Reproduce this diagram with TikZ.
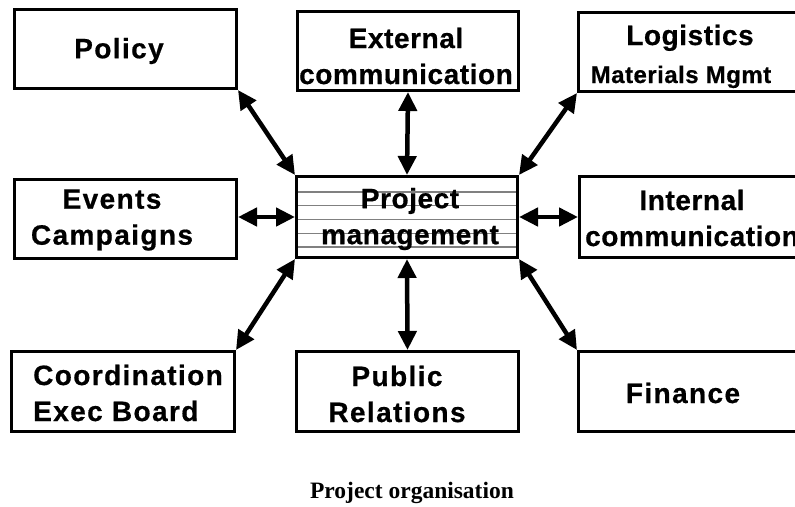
\documentclass[tikz,border=0pt]{standalone}
\usepackage{fontspec}
\setmainfont{Liberation Sans}
\newfontfamily\boxfont{Liberation Sans Bold}[LetterSpace=2, FakeBold=0.6]
\newfontfamily\boxfontwide{Liberation Sans Bold}[LetterSpace=5, FakeBold=0.6]
\newfontfamily\capfont{Liberation Serif}
\usetikzlibrary{arrows.meta}
\begin{document}
\begin{tikzpicture}[x=1pt,y=-1pt,
  box/.style={draw=black, line width=3pt, fill=white, inner sep=0pt},
  lbl/.style={font=\boxfont\fontsize{28}{36}\selectfont, align=center, inner sep=0pt},
  dbl/.style={line width=4.5pt, {Triangle[length=19pt,width=18pt]}-{Triangle[length=19pt,width=18pt]}},
  hline/.style={draw=black!50, line width=1.4pt}]
\clip (0,0) rectangle (795,506);
\fill[white] (0,0) rectangle (795,506);
% boxes
\node[box, minimum width=222pt, minimum height=79pt] (policy) at (125.5,49) {};
\node[box, minimum width=221pt, minimum height=79pt] (ext) at (408,51) {};
\node[box, minimum width=240pt, minimum height=79pt] (logi) at (698.5,52) {};
\node[box, minimum width=222pt, minimum height=79pt] (events) at (125.5,219) {};
\node[box, minimum width=221pt, minimum height=81pt] (pm) at (407,217) {};
\node[box, minimum width=239pt, minimum height=81pt] (internal) at (699,217) {};
\node[box, minimum width=223pt, minimum height=80pt] (coord) at (123,391.5) {};
\node[box, minimum width=222pt, minimum height=80pt] (public) at (407.5,391.5) {};
\node[box, minimum width=240pt, minimum height=80pt] (finance) at (698.5,391.5) {};
% lines in project management box
\foreach \yy in {192,205.75,219.5,233.25,247}
  \draw[hline] (298,\yy) -- (516,\yy);
% texts
\node[lbl, font=\boxfontwide\fontsize{28}{36}\selectfont] (tpolicy) at (119,51) {Policy};
\node[lbl] (text) at (406,56) {External\\communication};
\node[lbl, anchor=base] (tlog1) at (690,45) {Logistics};
\node[lbl, anchor=base, font=\boxfont\fontsize{24}{30}\selectfont] (tlog2) at (681,83) {Materials Mgmt};
\node[lbl, font=\boxfontwide\fontsize{28}{36}\selectfont] (tevents) at (112,220) {Events\\Campaigns};
\node[lbl] (tpm) at (410,219) {Project\\management};
\node[lbl] (tint) at (692,218) {Internal\\communication};
\node[lbl, anchor=west, align=left, font=\boxfontwide\fontsize{28}{36}\selectfont] (tcoord) at (33,393) {Coordination\\Exec Board};
\node[lbl, font=\boxfontwide\fontsize{28}{36}\selectfont] (tpublic) at (397,394) {Public\\Relations};
\node[lbl, font=\boxfontwide\fontsize{28}{36}\selectfont] (tfin) at (683,393) {Finance};
% arrows
\draw[dbl] (policy.south east) -- (pm.north west);
\draw[dbl] (ext.south) -- (pm.north);
\draw[dbl] (logi.south west) -- (pm.north east);
\draw[dbl] (events.east |- pm.west) -- (pm.west);
\draw[dbl] (internal.west |- pm.east) -- (pm.east);
\draw[dbl] (coord.north east) -- (pm.south west);
\draw[dbl] (public.north) -- (pm.south);
\draw[dbl] (finance.north west) -- (pm.south east);
% caption
\node[font=\capfont\bfseries\fontsize{23.5}{28}\selectfont, anchor=base] (cap) at (412,498) {Project organisation};
\end{tikzpicture}
\end{document}
